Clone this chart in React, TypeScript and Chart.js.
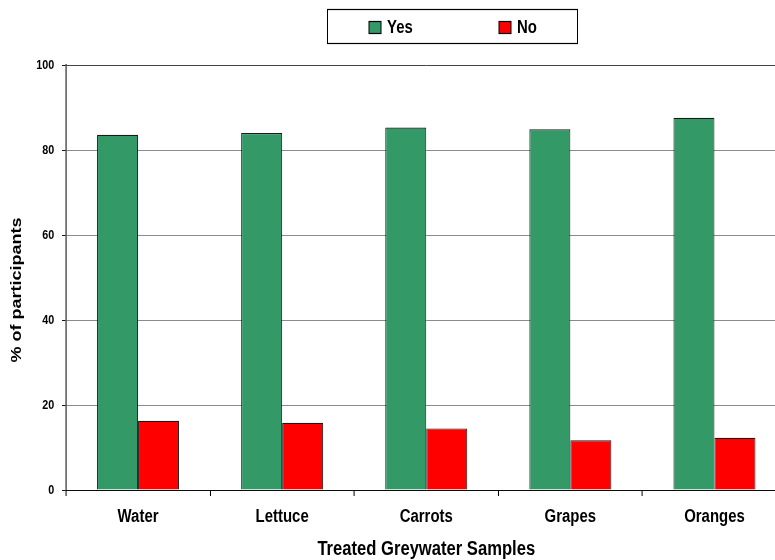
import { useEffect, useRef } from "react";
import { Chart, registerables } from "chart.js";

Chart.register(...registerables);

const categories = ["Water", "Lettuce", "Carrots", "Grapes", "Oranges"];
const seriesNames = ["Yes", "No"];
const yesValues = [83.6, 84.0, 85.3, 84.9, 87.6];
const noValues = [16.3, 15.8, 14.5, 11.7, 12.3];
const yMin = 0;
const yMax = 100;
const yStep = 20;
const xTitle = "Treated Greywater Samples";
const yTitle = "% of participants";

// The reference looks horizontally condensed (Arial-Narrow-like); draw everything
// through a horizontal squeeze so text and geometry keep the same proportions.
const SX = 0.83;
const FONT = '"Liberation Sans", Arial, sans-serif';
const GREEN = "#339966";
const RED = "#ff0000";

const squeeze = {
  id: "squeeze",
  beforeDraw(chart: any) {
    const ctx = chart.ctx;
    ctx.save();
    ctx.setTransform(SX, 0, 0, 1, 0, 0);
  },
  afterDraw(chart: any) {
    const ctx = chart.ctx;
    // legend box (coordinates in the squeezed space)
    const bx = 327.5 / SX;
    const bw = 250 / SX;
    ctx.save();
    ctx.fillStyle = "#ffffff";
    ctx.fillRect(bx, 9.5, bw, 34);
    ctx.strokeStyle = "#000000";
    ctx.lineWidth = 1.2;
    ctx.strokeRect(bx, 9.5, bw, 34);
    const xs = [369 / SX, 499 / SX];
    chart.data.datasets.forEach((ds: any, i: number) => {
      const x = xs[i];
      const w = 12 / SX;
      ctx.fillStyle = ds.backgroundColor;
      ctx.fillRect(x, 21.5, w, 12);
      ctx.strokeStyle = "#000000";
      ctx.lineWidth = 1.2;
      ctx.strokeRect(x, 21.5, w, 12);
      ctx.fillStyle = "#000000";
      ctx.font = `bold 18px ${FONT}`;
      ctx.textAlign = "left";
      ctx.textBaseline = "middle";
      ctx.fillText(ds.label, x + 18 / SX, 28);
    });
    ctx.restore();
    ctx.restore();
  },
};

export default function App() {
  const ref = useRef<HTMLCanvasElement | null>(null);

  useEffect(() => {
    if (!ref.current) return;
    const chart = new Chart(ref.current, {
      type: "bar",
      data: {
        labels: categories,
        datasets: [
          {
            label: seriesNames[0],
            data: yesValues,
            backgroundColor: GREEN,
            borderColor: "#1a1a1a",
            borderWidth: 1.2,
            categoryPercentage: 0.569,
            barPercentage: 1,
          },
          {
            label: seriesNames[1],
            data: noValues,
            backgroundColor: RED,
            borderColor: "#1a1a1a",
            borderWidth: 1.2,
            categoryPercentage: 0.569,
            barPercentage: 1,
          },
        ],
      },
      options: {
        responsive: false,
        animation: false,
        devicePixelRatio: 1,
        layout: { padding: { top: 65, right: 2.4, bottom: 0, left: 0 } },
        plugins: {
          legend: { display: false },
          tooltip: { enabled: false },
        },
        scales: {
          x: {
            afterFit: (s: any) => {
              s.height = 70;
            },
            grid: {
              display: true,
              drawOnChartArea: false,
              drawTicks: true,
              tickLength: 6,
              tickColor: "#000000",
              lineWidth: 1.2,
              offset: true,
            },
            border: { display: true, color: "#000000", width: 1 },
            ticks: {
              color: "#000000",
              padding: 10,
              font: { family: FONT, size: 18, weight: "bold" },
            },
            title: {
              display: true,
              text: xTitle,
              color: "#000000",
              font: { family: FONT, size: 20, weight: "bold", lineHeight: 1.1 },
              padding: { top: 0, bottom: 0 },
            },
          },
          y: {
            min: yMin,
            max: yMax,
            afterFit: (s: any) => {
              s.width = 66 / SX;
            },
            grid: {
              color: (c: any) => (c.tick && c.tick.value === yMax ? "#333333" : "#808080"),
              lineWidth: 1,
              drawTicks: true,
              tickLength: 4.8,
              tickColor: "#000000",
            },
            border: { display: true, color: "#000000", width: 1.2 },
            ticks: {
              stepSize: yStep,
              color: "#000000",
              padding: 9.3,
              font: { family: FONT, size: 13, weight: "bold" },
            },
            title: {
              display: true,
              text: yTitle + "     ",
              color: "#000000",
              font: { family: FONT, size: 18, weight: "bold" },
              padding: { top: 10, bottom: 0 },
            },
          },
        },
      },
      plugins: [squeeze],
    });
    return () => chart.destroy();
  }, []);

  return (
    <div
      style={{
        position: "absolute",
        left: 0,
        top: 0,
        width: 775,
        height: 560,
        overflow: "hidden",
        background: "#ffffff",
      }}
    >
      <canvas ref={ref} width={950} height={560} style={{ display: "block" }} />
    </div>
  );
}
